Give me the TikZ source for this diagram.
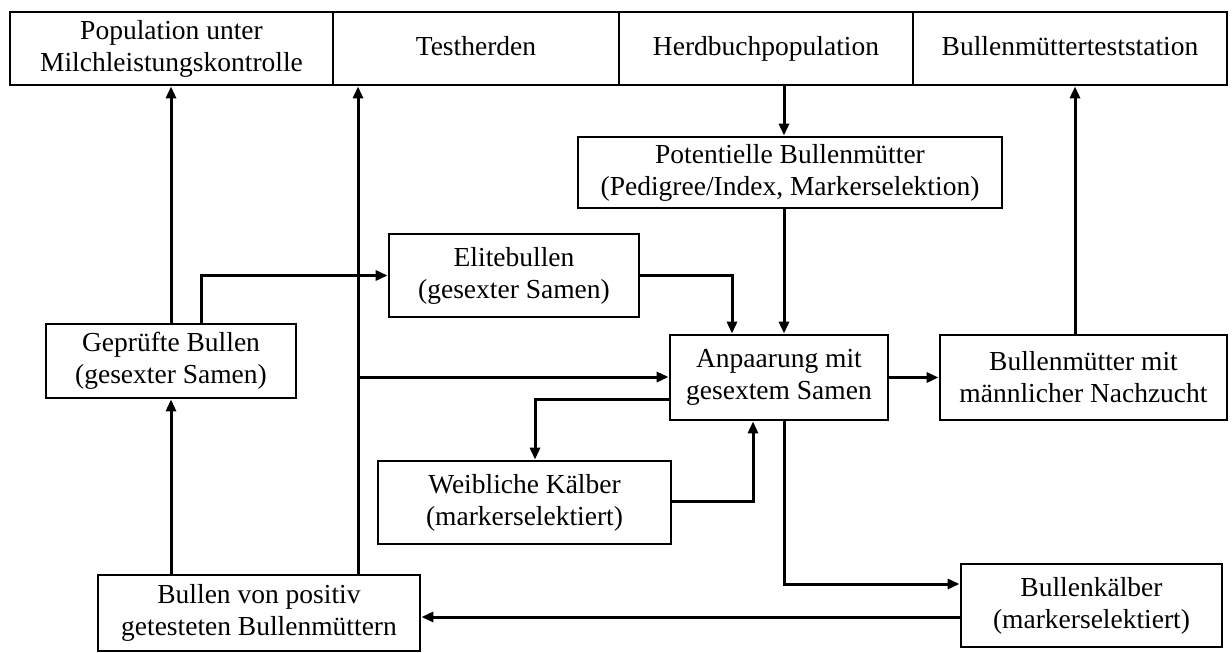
\documentclass[tikz,border=0pt]{standalone}
\usepackage{fontspec}
\setmainfont{Liberation Serif}
\usetikzlibrary{arrows.meta}

\begin{document}
\begin{tikzpicture}[x=1pt, y=-1pt, >={Triangle[length=12pt,width=10pt]}, line width=3pt,
    box/.style={draw, line width=2.8pt, inner sep=0pt, align=center,
      font=\fontsize{27.5}{32}\selectfont},
    oneline/.style={text height=19pt, text depth=6pt}]
  \useasboundingbox (0,0) rectangle (1232,653);
  % top row
  \node[box, minimum width=323pt, minimum height=73pt] (pop) at (171.5,48.5) {Population unter\\Milchleistungskontrolle};
  \node[box, oneline, minimum width=286pt, minimum height=73pt] (test) at (476,48.5) {Testherden};
  \node[box, oneline, minimum width=294pt, minimum height=73pt] (herd) at (766,48.5) {Herdbuchpopulation};
  \node[box, oneline, minimum width=314pt, minimum height=73pt] (bmts) at (1070,48.5) {Bullenmütterteststation};
  % boxes
  \node[box, minimum width=424pt, minimum height=71pt] (pot) at (790,172.5) {Potentielle Bullenmütter\\(Pedigree/Index, Markerselektion)};
  \node[box, minimum width=250pt, minimum height=83pt] (elite) at (514,275.5) {Elitebullen\\(gesexter Samen)};
  \node[box, minimum width=250pt, minimum height=74pt] (gep) at (171,361) {Geprüfte Bullen\\(gesexter Samen)};
  \node[box, minimum width=218pt, minimum height=85pt] (anp) at (779,377.5) {Anpaarung mit\\gesextem Samen};
  \node[box, minimum width=287pt, minimum height=85pt] (bmn) at (1083.5,377.5) {Bullenmütter mit\\männlicher Nachzucht};
  \node[box, minimum width=293pt, minimum height=83pt] (weib) at (524.5,502.5) {Weibliche Kälber\\(markerselektiert)};
  \node[box, minimum width=261pt, minimum height=83pt] (bkalb) at (1091.5,605.5) {Bullenkälber\\(markerselektiert)};
  \node[box, minimum width=322pt, minimum height=76pt] (bvp) at (259,613) {Bullen von positiv\\getesteten Bullenmüttern};
  \coordinate (trunk) at (358,377);
  % connectors
  \draw[->] (gep.north) -- (gep.north |- pop.south);
  \draw[->] (gep.north -| 201,0) |- (elite.west);
  \draw[->] (bvp.north -| gep.south) -- (gep.south);
  \draw[->] (bvp.north -| trunk) -- (test.south -| trunk);
  \draw[->] (trunk) -- (trunk -| anp.west);
  \draw[->] (herd.south -| 784,0) -- (pot.north -| 784,0);
  \draw[->] (pot.south -| 784,0) -- (anp.north -| 784,0);
  \draw[->] (elite.east) -| (anp.north -| 732,0);
  \draw[->] (anp.east) -- (bmn.west);
  \draw[->] (bmn.north -| 1075,0) -- (bmts.south -| 1075,0);
  \draw[->] (anp.west |- 0,399) -| (weib.north -| 535,0);
  \draw[->] (weib.east |- 0,501) -| (anp.south -| 753,0);
  \draw[->] (anp.south -| 784,0) |- (bkalb.west |- 0,584);
  \draw[->] (bkalb.west |- 0,617) -- (bvp.east |- 0,617);
\end{tikzpicture}
\end{document}
